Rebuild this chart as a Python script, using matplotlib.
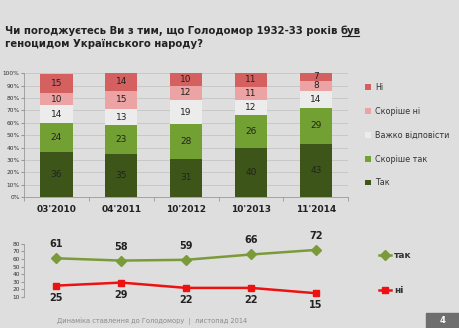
import numpy as np
import matplotlib.pyplot as plt
from matplotlib.patches import Rectangle

periods = ["03'2010", "04'2011", "10'2012", "10'2013", "11'2014"]
tak = [36, 35, 31, 40, 43]
skorishe_tak = [24, 23, 28, 26, 29]
vazhko = [14, 13, 19, 12, 14]
skorishe_ni = [10, 15, 12, 11, 8]
ni = [15, 14, 10, 11, 7]

line_tak = [61, 58, 59, 66, 72]
line_ni = [25, 29, 22, 22, 15]

series = [("Так", tak, "#3d5518"),
          ("Скоріше так", skorishe_tak, "#72a032"),
          ("Важко відповісти", vazhko, "#ececec"),
          ("Скоріше ні", skorishe_ni, "#eba3a3"),
          ("Ні", ni, "#d4605f")]

fig = plt.figure(figsize=(4.6, 3.28), dpi=100)
fig.patch.set_facecolor("#dedede")

# title
t1 = fig.text(0.011, 0.905, "Чи погоджуєтесь Ви з тим, що Голодомор 1932-33 років ",
              fontsize=7.3, fontweight="bold", color="#222222", va="center")
fig.canvas.draw()
r = fig.canvas.get_renderer()
bb = t1.get_window_extent(r)
x_buv = bb.x1 / fig.bbox.width
t2 = fig.text(x_buv, 0.905, "був", fontsize=7.3, fontweight="bold", color="#222222", va="center")
bb2 = t2.get_window_extent(r)
uy = (bb2.y0 + 0.5) / fig.bbox.height
fig.add_artist(plt.Line2D([(bb2.x0 + 0.5) / fig.bbox.width, (bb2.x1 - 2) / fig.bbox.width], [uy, uy],
                          color="#222222", lw=0.8, transform=fig.transFigure))
fig.text(0.011, 0.867, "геноцидом Українського народу?", fontsize=7.3,
         fontweight="bold", color="#222222", va="center")

# stacked bars
ax = fig.add_axes([0.052, 0.399, 0.705, 0.378])
ax.set_facecolor("none")
x = np.arange(len(periods))
bottom = np.zeros(len(periods))
for name, vals, col in series:
    ax.bar(x, vals, 0.5, bottom=bottom, color=col, label=name, zorder=3)
    for xi, v, b in zip(x, vals, bottom):
        ax.text(xi, b + v / 2, str(v), ha="center", va="center", fontsize=6.5,
                color="#222222", zorder=4)
    bottom = bottom + np.array(vals)
ax.set_xlim(-0.5, 4.5)
ax.set_ylim(0, 100)
ax.set_yticks(np.arange(0, 101, 10))
ax.set_yticklabels([f"{v}%" for v in range(0, 101, 10)], fontsize=4.2, color="#333333")
ax.set_xticks(x)
ax.set_xticklabels(periods, fontsize=6.5, fontweight="bold", color="#222222")
ax.set_xticks(np.arange(-0.5, 5, 1), minor=True)
ax.tick_params(axis="x", which="major", length=0, pad=6)
ax.tick_params(axis="x", which="minor", length=3, color="#999999")
ax.tick_params(axis="y", length=2, color="#999999", pad=1)
ax.grid(axis="y", color="#c4c4c4", lw=0.6, zorder=0)
for s in ["top", "right"]:
    ax.spines[s].set_visible(False)
for s in ["left", "bottom"]:
    ax.spines[s].set_color("#999999")
    ax.spines[s].set_linewidth(0.6)

handles, labels = ax.get_legend_handles_labels()
leg = ax.legend(handles[::-1], labels[::-1], loc="upper left", bbox_to_anchor=(1.03, 0.98),
                frameon=False, fontsize=5.8, handlelength=0.7, handleheight=0.7,
                labelspacing=1.85, handletextpad=0.5)
for t in leg.get_texts():
    t.set_color("#333333")

# line chart
ax2 = fig.add_axes([0.052, 0.0945, 0.705, 0.162])
ax2.set_facecolor("none")
ax2.plot(x, line_tak, color="#7b9b3b", lw=1.8, marker="D", ms=5, label="так")
ax2.plot(x, line_ni, color="#ee1111", lw=1.8, marker="s", ms=4, label="ні")
for xi, v in zip(x, line_tak):
    ax2.annotate(str(v), (xi, v), xytext=(0, 6.5), textcoords="offset points",
                 ha="center", va="bottom", fontsize=7, fontweight="bold", color="#222222")
for xi, v in zip(x, line_ni):
    ax2.annotate(str(v), (xi, v), xytext=(0, -5), textcoords="offset points",
                 ha="center", va="top", fontsize=7, fontweight="bold", color="#222222")
ax2.set_xlim(-0.5, 4.5)
ax2.set_ylim(10, 80)
ax2.set_yticks(np.arange(10, 81, 10))
ax2.tick_params(axis="y", labelsize=4.2, labelcolor="#333333", length=2, color="#999999", pad=1)
ax2.set_xticks([])
for s in ["top", "right", "bottom"]:
    ax2.spines[s].set_visible(False)
ax2.spines["left"].set_color("#999999")
ax2.spines["left"].set_linewidth(0.6)
leg2 = ax2.legend(loc="upper left", bbox_to_anchor=(1.07, 1.02), frameon=False,
                  prop={"size": 6.5, "weight": "bold"}, handlelength=1.3,
                  labelspacing=2.9, handletextpad=0.4)
for t in leg2.get_texts():
    t.set_color("#333333")

# footer
fig.text(0.124, 0.021, "Динаміка ставлення до Голодомору  |  листопад 2014",
         fontsize=4.8, color="#8a8a8a", va="center")
fig.add_artist(Rectangle((0.926, 0.0), 0.074, 0.046, transform=fig.transFigure,
                         color="#6e6e6e"))
fig.text(0.963, 0.023, "4", fontsize=6, color="white", fontweight="bold",
         ha="center", va="center")

fig.savefig("out.png", dpi=100, facecolor=fig.get_facecolor())
